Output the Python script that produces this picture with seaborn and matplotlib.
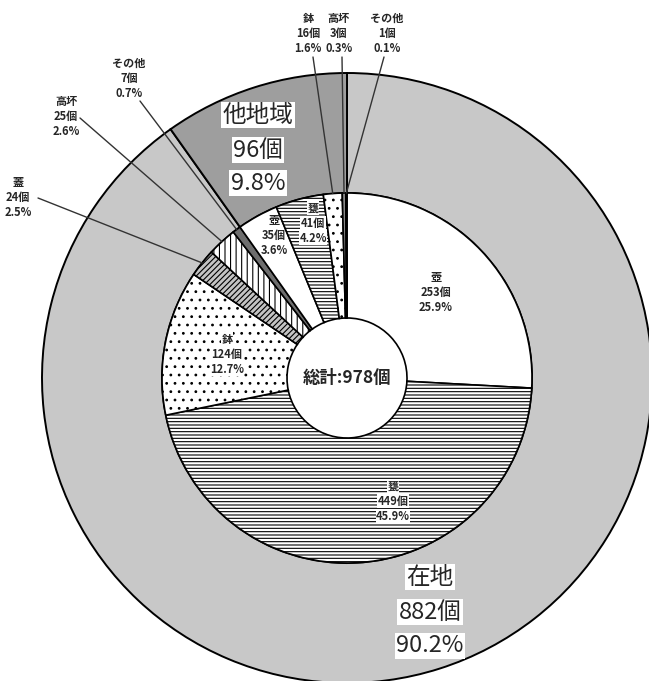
import numpy as np
import matplotlib
matplotlib.use("Agg")
import matplotlib.pyplot as plt
import seaborn as sns

# ---- data ----
outer_labels = ["在地", "他地域"]
outer_counts = [882, 96]
inner_types = ["壺", "甕", "鉢", "蓋", "高坏", "その他", "壺", "甕", "鉢", "高坏", "その他"]
inner_counts = [253, 449, 124, 24, 25, 7, 35, 41, 16, 3, 1]
total_label = "総計"

sns.set_theme(style="white")
plt.rcParams["font.family"] = ["Noto Sans CJK JP", "DejaVu Sans"]
plt.rcParams["hatch.linewidth"] = 0.8

W, H = 649, 681
CX, CY, R = 347, 378, 305
fig = plt.figure(figsize=(W / 100, H / 100), dpi=100)
fig.patch.set_facecolor("white")
ax = fig.add_axes([0, 0, 1, 1])

def d(px, py):
    return ((px - CX) / R, (CY - py) / R)

total = sum(outer_counts)
r_out, r_mid, r_hole = 1.0, 185 / R, 60 / R

# outer ring
outer_face = ["#c8c8c8", "#9e9e9e"]
wo, _ = ax.pie(outer_counts, radius=r_out, startangle=90, counterclock=False,
               colors=outer_face,
               wedgeprops=dict(width=r_out - r_mid, edgecolor="black", linewidth=1.4))

# inner ring
inner_face = ["white", "white", "white", "#c4c4c4", "white", "#6e6e6e",
              "white", "white", "white", "#8a8a8a", "#3a3a3a"]
inner_hatch = ["", "-----", "..", "//////", "|||", "", "", "-----", "..", "", ""]
wi, _ = ax.pie(inner_counts, radius=r_mid, startangle=90, counterclock=False,
               colors=inner_face,
               wedgeprops=dict(width=r_mid - r_hole, edgecolor="black", linewidth=1.2))
for w, h in zip(wi, inner_hatch):
    w.set_hatch(h)
    w.set_edgecolor("black")

ax.set_xlim(-CX / R, (W - CX) / R)
ax.set_ylim(-(H - CY) / R, CY / R)
ax.set_aspect("equal")
ax.axis("off")

# center text
ax.text(0, 0, f"{total_label}:{total}個", ha="center", va="center",
        fontsize=12.5, fontweight="bold")

def pct(n):
    return f"{n / total * 100:.1f}%"

box = dict(facecolor="white", edgecolor="none", pad=1.0)

# big outer labels
big = [(outer_labels[0], outer_counts[0], 430, [577, 612, 646]),
       (outer_labels[1], outer_counts[1], 258, [115, 150, 183])]
for name, n, px, ys in big:
    for txt, py in zip([name, f"{n}個", pct(n)], ys):
        ax.text(*d(px, py), txt, ha="center", va="center", fontsize=17, bbox=box)

# inner slice mid-angles (degrees, math convention)
cum = np.cumsum([0] + inner_counts)
mids = [90 - 360 * (cum[i] + cum[i + 1]) / 2 / total for i in range(len(inner_counts))]

# label layout: (pixel x, pixel y of first line, leader start px or None, boxed)
layout = {
    0: (436, 277, None, False),
    1: (393, 486, None, True),
    2: (227, 339, None, True),
    3: (18, 182, (38, 198), False),
    4: (66, 101, (80, 118), False),
    5: (129, 63, (140, 101), False),
    6: (274, 220, None, False),
    7: (313, 208, None, True),
    8: (308, 18, (313, 57), False),
    9: (339, 18, (342, 57), False),
    10: (387, 18, (384, 57), False),
}
for i, (px, py, lead, boxed) in layout.items():
    n = inner_counts[i]
    lines = [inner_types[i], f"{n}個", pct(n)]
    for k, txt in enumerate(lines):
        ax.text(*d(px, py + 15 * k), txt, ha="center", va="center", fontsize=8,
                fontweight="bold",
                bbox=(dict(facecolor="white", edgecolor="none", pad=0.3) if boxed else None))
    if lead is not None:
        a = np.deg2rad(mids[i])
        ex, ey = r_mid * np.cos(a), r_mid * np.sin(a)
        sx, sy = d(*lead)
        ax.plot([sx, ex], [sy, ey], color="#333333", lw=1.0, zorder=5)

fig.savefig("out.png", dpi=100, facecolor="white")
